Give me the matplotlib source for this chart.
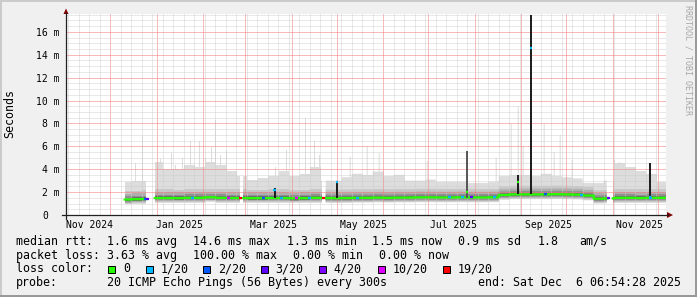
import matplotlib
matplotlib.use("Agg")
import matplotlib.pyplot as plt
import matplotlib.dates as mdates
from matplotlib.patches import Polygon, Rectangle
from matplotlib.ticker import MultipleLocator
from matplotlib.transforms import Affine2D, blended_transform_factory
import numpy as np
from datetime import datetime, timedelta

W, H, DPI = 697, 297, 100
MONO = "DejaVu Sans Mono"

START = datetime(2024, 11, 1, 6, 54, 28)
END = datetime(2025, 12, 6, 6, 54, 28)

# weekly readings (ms), first week starts Sun 2024-12-08
FIRST_WEEK = datetime(2024, 12, 8)
smoke_top = [2.9, 3.0, 3.0, 4.6, 4.0, 4.0, 4.4, 4.2, 4.6, 4.4, 3.8, 3.4,
             3.1, 3.2, 3.4, 3.8, 3.4, 3.6, 4.2, 3.0, 3.0, 3.3, 3.6, 3.5,
             3.8, 3.4, 3.5, 3.0, 3.0, 3.1, 2.9, 2.9, 2.9, 2.8, 2.8, 2.9,
             3.4, 3.5, 3.5, 3.4, 3.6, 3.4, 3.3, 3.2, 2.8, 2.8, 3.0, 4.5,
             4.2, 3.8, 3.6, 2.9]
median_rtt = [1.35, 1.38, 1.40, 1.48, 1.48, 1.47, 1.50, 1.50, 1.55, 1.50,
              1.48, 1.48, 1.47, 1.47, 1.48, 1.48, 1.46, 1.47, 1.50, 1.48,
              1.47, 1.48, 1.50, 1.50, 1.52, 1.50, 1.52, 1.52, 1.54, 1.54,
              1.53, 1.53, 1.54, 1.53, 1.53, 1.54, 1.75, 1.80, 1.80, 1.80,
              1.80, 1.82, 1.80, 1.78, 1.70, 1.42, 1.45, 1.50, 1.50, 1.48,
              1.50, 1.50]

# spread of the sorted pings around the median (ms), outer to inner
smoke_below = [0.42, 0.36, 0.28, 0.20, 0.12]
smoke_above = [None, 0.75, 0.50, 0.30, 0.15]
smoke_shades = ["#dddddd", "#c8c8c8", "#aeaeae", "#909090", "#6e6e6e"]

# periods without data
gaps = [("2024-11-01 06:00", "2024-12-10 18:00"),
        ("2024-12-25 11:00", "2024-12-30 18:00"),
        ("2025-02-25 18:00", "2025-02-27 12:00"),
        ("2025-04-21 18:00", "2025-04-23 18:00"),
        ("2025-10-28 18:00", "2025-11-01 04:00")]

# thin smoke spikes: (time, max ping ms)
spikes = [("2024-12-17 12:00", 4.5), ("2024-12-22 14:00", 6.9),
          ("2025-01-03 00:00", 4.9), ("2025-01-10 12:00", 5.4),
          ("2025-01-13 12:00", 4.4), ("2025-01-18 00:00", 5.0),
          ("2025-01-23 00:00", 6.5), ("2025-01-29 00:00", 6.5),
          ("2025-02-02 00:00", 5.0), ("2025-02-06 00:00", 5.9),
          ("2025-02-08 18:00", 8.3), ("2025-02-12 00:00", 5.2),
          ("2025-02-16 00:00", 5.7), ("2025-03-21 00:00", 4.2),
          ("2025-03-28 00:00", 5.7), ("2025-04-10 00:00", 8.5),
          ("2025-04-16 00:00", 6.5), ("2025-04-19 00:00", 5.2),
          ("2025-05-10 00:00", 5.1), ("2025-05-21 00:00", 6.0),
          ("2025-05-29 00:00", 5.4), ("2025-06-30 00:00", 4.7),
          ("2025-07-27 00:00", 5.6), ("2025-08-15 00:00", 5.0),
          ("2025-08-25 00:00", 8.0), ("2025-08-30 00:00", 9.5),
          ("2025-09-02 00:00", 6.0), ("2025-09-16 00:00", 8.0),
          ("2025-09-23 00:00", 5.5), ("2025-09-27 00:00", 7.0),
          ("2025-10-05 00:00", 4.8), ("2025-11-02 00:00", 4.8),
          ("2025-11-05 00:00", 4.6)]

# dense dark spikes: (time, low, high, median, loss)
dark_spikes = [("2025-03-20 12:00", 1.5, 2.4, 2.2, "1/20"),
               ("2025-05-01 06:00", 1.5, 2.9, 2.9, "1/20"),
               ("2025-07-27 00:00", 1.5, 5.6, 2.05, "0"),
               ("2025-08-30 00:00", 1.8, 3.5, 2.9, "0"),
               ("2025-09-07 14:00", 1.8, 17.5, 14.6, "1/20"),
               ("2025-11-26 00:00", 1.5, 4.5, 1.6, "1/20")]

# median segments coloured by packet loss
loss_marks = [("2024-12-23 12:00", "2/20"), ("2024-12-25 00:00", "3/20"),
              ("2025-01-24 00:00", "1/20"), ("2025-02-17 00:00", "10/20"),
              ("2025-02-24 18:00", "19/20"), ("2025-03-12 00:00", "2/20"),
              ("2025-03-24 00:00", "1/20"), ("2025-04-03 00:00", "10/20"),
              ("2025-04-12 00:00", "1/20"), ("2025-04-21 00:00", "19/20"),
              ("2025-05-14 00:00", "1/20"), ("2025-07-14 00:00", "1/20"),
              ("2025-07-23 00:00", "1/20"), ("2025-07-29 00:00", "3/20"),
              ("2025-08-13 00:00", "1/20"), ("2025-09-16 00:00", "2/20"),
              ("2025-10-10 00:00", "1/20"), ("2025-10-28 00:00", "3/20"),
              ("2025-11-25 00:00", "1/20")]

loss_labels = ["0", "1/20", "2/20", "3/20", "4/20", "10/20", "19/20"]
loss_colors = ["#26ff00", "#00b8ff", "#0059ff", "#5e00ff", "#7e00ff", "#dd00ff", "#ff0000"]
LOSS = dict(zip(loss_labels, loss_colors))

month_labels = ["Nov 2024", "Jan 2025", "Mar 2025", "May 2025", "Jul 2025", "Sep 2025", "Nov 2025"]
month_label_at = ["2024-11-17", "2025-01-16", "2025-03-20", "2025-05-19",
                  "2025-07-18", "2025-09-19", "2025-11-19"]
y_ticks = [0, 2, 4, 6, 8, 10, 12, 14, 16]


def ts(s):
    return datetime.fromisoformat(s)


# one sample per pixel (16 h)
STEP = timedelta(hours=16)
n = int((END - START) / STEP)
edges = [START + k * STEP for k in range(n + 1)]
mids = [e + STEP / 2 for e in edges[:-1]]
wk = np.array([int((m - FIRST_WEEK).total_seconds() // (7 * 86400)) for m in mids])
ok = (wk >= 0) & (wk < len(smoke_top))
wi = np.clip(wk, 0, len(smoke_top) - 1)
top = np.where(ok, np.array(smoke_top)[wi], np.nan)
med = np.where(ok, np.array(median_rtt)[wi], np.nan)
for a, b in gaps:
    a, b = ts(a), ts(b)
    for k, m in enumerate(mids):
        if a <= m < b:
            top[k] = np.nan
            med[k] = np.nan


def idx(t):
    return int((t - START) / STEP)


for t, h in spikes:
    k = idx(ts(t))
    if not np.isnan(top[k]):
        top[k] = max(top[k], h)

xe = mdates.date2num(edges)
top_e = np.append(top, top[-1])
med_e = np.append(med, med[-1])

fig = plt.figure(figsize=(W / DPI, H / DPI), dpi=DPI, facecolor="#f0f0f0")
PX = Affine2D().scale(1 / W, -1 / H).translate(0, 1) + fig.transFigure

left, right, ytop, ybot = 65.7, 665.7, 13.5, 215.0
ax = fig.add_axes([left / W, 1 - ybot / H, (right - left) / W, (ybot - ytop) / H])
ax.set_facecolor("white")
ax.set_xlim(xe[0], mdates.date2num(END))
ax.set_ylim(0, 17.6)

# smoke
for i, shade in enumerate(smoke_shades):
    lo = med_e - smoke_below[i]
    hi = top_e if smoke_above[i] is None else med_e + smoke_above[i]
    ax.fill_between(xe, lo, hi, step="post", color=shade, lw=0, zorder=1)

# median
ax.step(xe, med_e, where="post", color=LOSS["0"], lw=1.6, zorder=3)
for t, loss in loss_marks:
    k = idx(ts(t))
    if np.isnan(med[k]):
        continue
    ax.hlines(med[k], xe[k], xe[k] + 2.0, color=LOSS[loss], lw=1.6, zorder=4)

for t, lo, hi, m, loss in dark_spikes:
    x = mdates.date2num(ts(t))
    col = "#555555" if hi - lo > 3.5 and hi < 10 else "#1a1a1a"
    ax.vlines(x, lo, hi, color=col, lw=1.4, zorder=3.5)
    ax.hlines(m, x - 0.7, x + 0.7, color=LOSS[loss], lw=1.6, zorder=4)

# grid over the smoke; dotted in the original, so drawn at reduced strength
ax.xaxis.set_major_locator(mdates.MonthLocator())
ax.xaxis.set_minor_locator(mdates.WeekdayLocator(byweekday=mdates.SU))
ax.yaxis.set_major_locator(MultipleLocator(2))
ax.yaxis.set_minor_locator(MultipleLocator(0.5))
ax.set_axisbelow(False)
ax.grid(which="minor", color="#cccccc", alpha=0.45, linestyle="-", lw=0.72,
        antialiased=False)
ax.grid(which="major", color="#f58080", alpha=0.55, linestyle="-", lw=0.72,
        antialiased=False)
ax.tick_params(which="both", length=0, labelbottom=False, labelleft=False)
for s in ax.spines.values():
    s.set_visible(False)

# axes with arrows
fig.add_artist(plt.Line2D([62, 668], [215, 215], color="#212121", lw=0.9, transform=PX))
fig.add_artist(plt.Line2D([66, 66], [219, 13], color="#212121", lw=0.9, transform=PX))
fig.add_artist(Polygon([[667, 212], [667, 218], [673, 215]], closed=True,
                       color="#800000", lw=0, transform=PX))
fig.add_artist(Polygon([[63.5, 14], [68.5, 14], [66, 8.5]], closed=True,
                       color="#800000", lw=0, transform=PX))

# tick labels
ty = blended_transform_factory(PX, ax.transData)
for v in y_ticks:
    if v == 0:
        ax.text(48.3, v, "0", transform=ty, ha="right", va="center_baseline",
                family=MONO, fontsize=7)
    else:
        ax.text(60, v, "%d m" % v, transform=ty, ha="right", va="center_baseline",
                family=MONO, fontsize=7)
tx = blended_transform_factory(ax.transData, PX)
for lab, d in zip(month_labels, month_label_at):
    ax.text(mdates.date2num(ts(d)), 227.7, lab, transform=tx, ha="center",
            va="baseline", family=MONO, fontsize=7)

fig.text(10, 114, "Seconds", transform=PX, rotation=90, ha="center", va="center",
         family=MONO, fontsize=8.4)
fig.text(688, 60, "RRDTOOL / TOBI OETIKER", transform=PX, rotation=270,
         ha="center", va="center", family=MONO, fontsize=6, color="#a8a8a8")

# legend
rows = [
    (245.0, [(16, "median rtt:"), (107.3, "1.6 ms avg"), (193.3, "14.6 ms max"),
             (286.7, "1.3 ms min"), (372.3, "1.5 ms now"), (458.3, "0.9 ms sd"),
             (537.5, "1.8"), (579, "am/s")]),
    (258.7, [(16, "packet loss:"), (107.3, "3.63 % avg"), (193.3, "100.00 % max"),
             (293.3, "0.00 % min"), (379.3, "0.00 % now")]),
    (272.4, [(16, "loss color:")]),
    (286.0, [(16, "probe:"), (107.3, "20 ICMP Echo Pings (56 Bytes) every 300s"),
             (478, "end: Sat Dec  6 06:54:28 2025")]),
]
for y, items in rows:
    for x, s in items:
        fig.text(x, y, s, transform=PX, ha="left", va="baseline", family=MONO, fontsize=8.4)

box_x = [108.3, 145.7, 203.3, 261, 319, 377.7, 442.7]
for bx, lab, col in zip(box_x, loss_labels, loss_colors):
    fig.add_artist(Rectangle((bx, 265.7), 7, 7, facecolor=col, edgecolor="black",
                             lw=0.72, transform=PX))
    fig.text(bx + 14.5, 272.4, lab, transform=PX, ha="left", va="baseline",
             family=MONO, fontsize=8.4)

# 3d frame
fig.add_artist(Rectangle((0, 0), W, 2, color="#cbcbcb", lw=0, transform=PX))
fig.add_artist(Rectangle((0, 0), 2, H, color="#cbcbcb", lw=0, transform=PX))
fig.add_artist(Rectangle((0, H - 2), W, 2, color="#999999", lw=0, transform=PX))
fig.add_artist(Rectangle((W - 2, 0), 2, H, color="#999999", lw=0, transform=PX))

fig.savefig("out.png", dpi=DPI, facecolor=fig.get_facecolor())
